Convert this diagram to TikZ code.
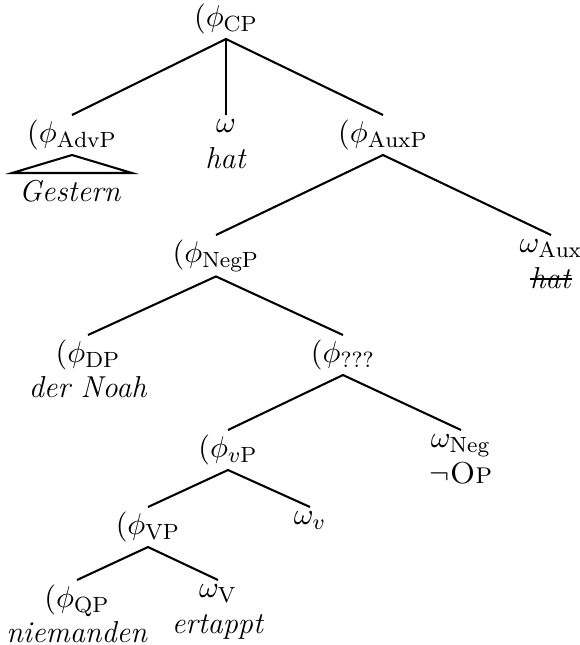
\documentclass[tikz,border=0pt]{standalone}
\usepackage{calc}
\newcommand{\strikeword}[1]{\leavevmode\rlap{#1}\rule[0.6ex]{\widthof{#1}}{0.9pt}}
\begin{document}
\begin{tikzpicture}[x=0.3636pt,y=-0.3636pt,
  every node/.style={font=\fontsize{11pt}{12.8pt}\selectfont},
  cat/.style={anchor=north,inner sep=1.6pt,align=center},
  branch/.style={line width=0.75pt}]
\useasboundingbox (0,0) rectangle (580,645);

% nodes
\node[cat,anchor=south] (cp) at (226,39) {$(\phi_{\mathrm{CP}}$};
\node[cat] (advp) at (72,115) {$(\phi_{\mathrm{AdvP}}$};
\node[cat] (om) at (226,115) {$\omega$\\\textit{hat}};
\node[cat] (auxp) at (383,115) {$(\phi_{\mathrm{AuxP}}$};
\node[cat] (negp) at (216,235) {$(\phi_{\mathrm{NegP}}$};
\node[cat] (omaux) at (551,235) {$\omega_{\mathrm{Aux}}$\\\strikeword{\textit{hat}}};
\node[cat] (dp) at (88,335) {$(\phi_{\mathrm{DP}}$\\\textit{der Noah}};
\node[cat] (q) at (343,335) {$(\phi_{\mathrm{???}}$};
\node[cat] (vsp) at (228,430) {$(\phi_{v\mathrm{P}}$};
\node[cat] (omneg) at (461,430) {$\omega_{\mathrm{Neg}}$\\$\neg$\textsc{Op}};
\node[cat] (vbp) at (148,507) {$(\phi_{\mathrm{VP}}$};
\node[cat] (omv) at (310,507) {$\omega_v$};
\node[cat] (qp) at (77,580) {$(\phi_{\mathrm{QP}}$\\\textit{niemanden}};
\node[cat] (omV) at (218,580) {$\omega_{\mathrm{V}}$\\\textit{ertappt}};

% roof over the adverb
\coordinate (rl) at (12,173);
\coordinate (rr) at (132,173);
\node[anchor=north,inner sep=2.5pt] (gestern) at (70,173) {\textit{Gestern}};
\draw[branch] (advp.south) -- (rl) -- (rr) -- cycle;

% branches
\draw[branch] (advp.north) -- (cp.south) -- (auxp.north);
\draw[branch] (cp.south) -- (om.north);
\draw[branch] (negp.north) -- (auxp.south) -- (omaux.north);
\draw[branch] (dp.north) -- (negp.south) -- (q.north);
\draw[branch] (vsp.north) -- (q.south) -- (omneg.north);
\draw[branch] (vbp.north) -- (vsp.south) -- (omv.north);
\draw[branch] (qp.north) -- (vbp.south) -- (omV.north);
\end{tikzpicture}
\end{document}
